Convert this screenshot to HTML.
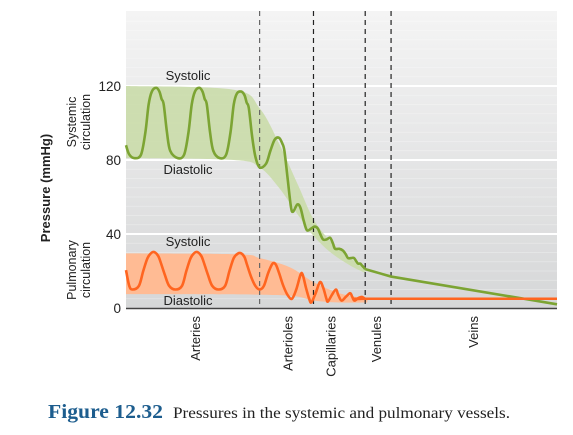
<!DOCTYPE html>
<html><head><meta charset="utf-8"><style>
body{margin:0;background:#fff;width:573px;height:435px;overflow:hidden}
svg{display:block}
text{font-family:"Liberation Sans",sans-serif}
text.serif{font-family:"Liberation Serif",serif}
</style></head><body>
<svg width="573" height="435" id="chart">
<defs>
<linearGradient id="bg" x1="0" y1="0" x2="0" y2="1">
<stop offset="0" stop-color="#f4f4f4"/><stop offset="1" stop-color="#d6d7d8"/>
</linearGradient>
</defs>
<rect x="126" y="11" width="431" height="297" fill="url(#bg)"/>
<g id="stripes"></g>
<g id="grid"></g>
<g id="bands"></g>
<g id="dashes"></g>
<g id="lines"></g>
<line x1="126" y1="308.5" x2="557" y2="308.5" stroke="#444" stroke-width="1.5"/>
<g id="labels"></g>
<text transform="translate(50,188) rotate(-90)" text-anchor="middle" font-size="13" font-weight="bold" fill="#222">Pressure (mmHg)</text>
<text transform="translate(76,122) rotate(-90)" text-anchor="middle" font-size="12.5" fill="#222"><tspan x="0" dy="0">Systemic</tspan><tspan x="0" dy="14">circulation</tspan></text>
<text transform="translate(76,270) rotate(-90)" text-anchor="middle" font-size="12.5" fill="#222"><tspan x="0" dy="0">Pulmonary</tspan><tspan x="0" dy="14">circulation</tspan></text>
<text class="serif" x="48" y="418" font-size="20" font-weight="bold" fill="#1d5d8e" textLength="115" lengthAdjust="spacingAndGlyphs">Figure 12.32</text>
<text class="serif" x="173" y="418" font-size="16" fill="#222" textLength="337" lengthAdjust="spacingAndGlyphs">Pressures in the systemic and pulmonary vessels.</text>
</svg>
<script>
const yTicks=[0,40,80,120];
const vesselNames=["Arteries","Arterioles","Capillaries","Venules","Veins"];
const vesselPos=[32,75,95,116,161];
const boundaries=[62,87,111,123];
// x in position units (0..200), y in mmHg
const sysWaveX=[0,1.5,4,7,9,10.5,12,14,15.5,16.5,17.5,19,20.5,24,27,29,30.5,32,34,35.5,36.5,37.5,39,40.5,43.5,46.5,48.5,50,51.5,53.5,55,56,57,58.5,60,62,65,67,69,71,72.5,73.5,75,76.5,77.5,79.5,81,82.5,84,86,87.5,89,90.5,91.5,93,94.7,96,97,99,100.7,102,103,104.5,105.8,107,107.7,108.7,109.5,110.3,111];
const sysWaveY=[88,83,81,83,95,110,117,119,117,113,110,95,85,81,83,95,110,117,119,117,113,110,95,85,81,83,95,110,116,117,115,111,108,93,82,76,78,85,91,92,89,85,70,55,52,56,54,47,42,43,44,43,39,37,37,38,35,32,32,31,29,27,27,27,25,24,24,23,22,21];
const veinX=[111,123,200];
const veinY=[21,17,2];
const sysUpperX=[0,50,62,71,80,87,95,104,111];
const sysUpperY=[120,118,108,89,66,48,36,27,22];
const sysLowerX=[0,50,62,71,80,87,95,104,111];
const sysLowerY=[81,80,76,65,50,39,30,23,19];
const pulWaveX=[0,1.5,3,6,8,10,12,13.5,15,16,18,20,23,26,28,30,32,33.5,35,36,38,40,43,46,48,50,52,53.5,55,56,58,60,62,64,66,68,69.5,71,73,75,77,79,81,82,83.5,85,86,88,90,91.5,93,93.7,95.5,97.4,98.5,100,102,104,105,106,108,109.5,111,113,200];
const pulWaveY=[20.5,12,10,12,20,27,30,30,28,25,18,12,10,12,20,27,30,30,28,25,18,12,10,12,20,27,29.5,29.5,27.5,24,17,12,10,12,19,24,23.5,19,12,7,5,10,18,18,11,5,3,8,14,11,5,3.5,7,10,7,4,6,8,6,4,5.5,6,5,5,5];
const pulUpperX=[0,52,62,76,87,99,112];
const pulUpperY=[29.5,29,27,22,14,8,5];
const pulLowerX=[0,70,87,99,112];
const pulLowerY=[7.5,7,4,3,3];
const xs=v=>126+v*(431/200);
const ys=v=>308-v*1.85;
const NS="http://www.w3.org/2000/svg";
function mk(t,a,p){const e=document.createElementNS(NS,t);for(const k in a)e.setAttribute(k,a[k]);p.appendChild(e);return e;}
function smooth(X,Y){const P=X.map((x,i)=>[xs(x),ys(Y[i])]);let d="M"+P[0][0]+","+P[0][1];
for(let i=0;i<P.length-1;i++){const p0=P[Math.max(0,i-1)],p1=P[i],p2=P[i+1],p3=P[Math.min(P.length-1,i+2)];
const c1=[p1[0]+(p2[0]-p0[0])/6,p1[1]+(p2[1]-p0[1])/6],c2=[p2[0]-(p3[0]-p1[0])/6,p2[1]-(p3[1]-p1[1])/6];
d+=" C"+c1+" "+c2+" "+p2;}return d;}
function band(UX,UY,LX,LY){const u=smooth(UX,UY);const rx=LX.slice().reverse(),ry=LY.slice().reverse();return u+" L"+smooth(rx,ry).slice(1)+" Z";}
const st=document.getElementById('stripes');
for(let v=5;v<160;v+=5){if(v%40===0)continue;const l=mk('line',{x1:126,x2:557,y1:ys(v),y2:ys(v),stroke:'#fff','stroke-opacity':0.35,'stroke-width':0.8},st);

}
const g=document.getElementById('grid');const lb=document.getElementById('labels');
yTicks.forEach(v=>{if(v>0){const l=mk('line',{x1:126,x2:557,y1:ys(v),y2:ys(v),stroke:'#fff','stroke-width':2},g);

}
const t=mk('text',{x:121,y:ys(v)+5,'text-anchor':'end','font-size':13.5,fill:'#222'},lb);t.textContent=v;

});
const b=document.getElementById('bands');
const gb=mk('path',{d:band(sysUpperX,sysUpperY,sysLowerX,sysLowerY),fill:'#cadcaa','fill-opacity':0.9},b);


const ob=mk('path',{d:band(pulUpperX,pulUpperY,pulLowerX,pulLowerY),fill:'#ffbb94'},b);


const dg=document.getElementById('dashes');
boundaries.forEach((v,i)=>{const l=mk('line',{x1:xs(v),x2:xs(v),y1:11,y2:308,stroke:i==0?'#666':'#222','stroke-width':1.2,'stroke-dasharray':'5,4'},dg);

});
const ln=document.getElementById('lines');
const gl=mk('path',{d:smooth(sysWaveX,sysWaveY),fill:'none',stroke:'#7ca433','stroke-width':2.6,'stroke-linejoin':'round'},ln);


const vl=mk('path',{d:"M"+veinX.map((x,i)=>xs(x)+","+ys(veinY[i])).join(" L"),fill:'none',stroke:'#7ca433','stroke-width':2.6},ln);


const ol=mk('path',{d:smooth(pulWaveX,pulWaveY),fill:'none',stroke:'#ff6520','stroke-width':2.6,'stroke-linejoin':'round'},ln);


vesselNames.forEach((n,i)=>{const t=mk('text',{transform:`translate(${xs(vesselPos[i])+5},316) rotate(-90)`,'text-anchor':'end','font-size':13,fill:'#222'},lb);t.textContent=n;

});
[["Systolic",188,80,"systemic-systolic-label"],["Diastolic",188,174,"systemic-diastolic-label"],["Systolic",188,246,"pulmonary-systolic-label"],["Diastolic",188,305,"pulmonary-diastolic-label"]].forEach(a=>{
const t=mk('text',{x:a[1],y:a[2],'text-anchor':'middle','font-size':13,fill:'#222'},lb);t.textContent=a[0];

});
</script>
</body></html>
